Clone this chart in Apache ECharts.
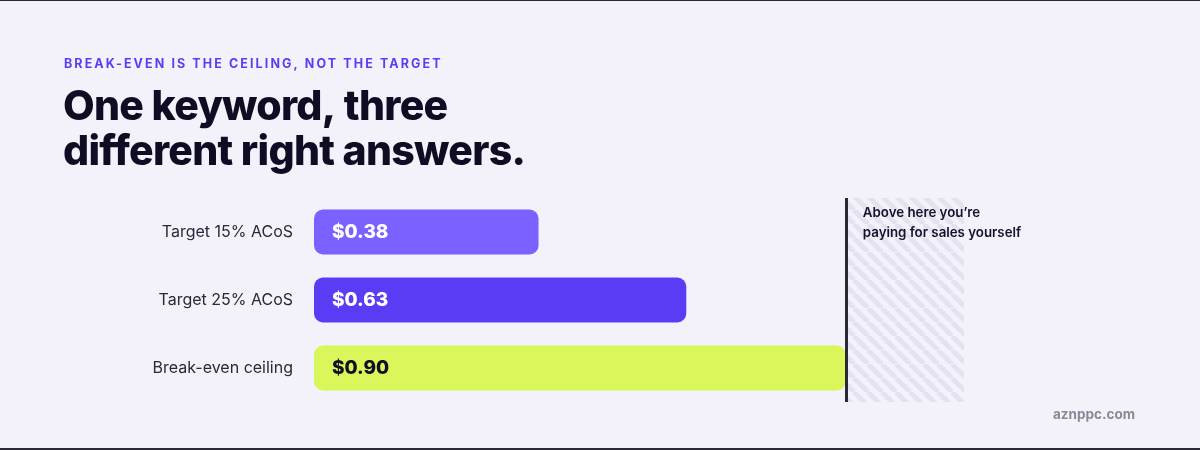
<!DOCTYPE html>
<html>
<head>
<meta charset="utf-8">
<script src="https://cdn.jsdelivr.net/npm/echarts@6/dist/echarts.min.js"></script>
<style>
  html, body { margin: 0; padding: 0; background: #f3f2fa; }
  #chart { width: 1200px; height: 450px; }
</style>
</head>
<body>
<div id="chart"></div>
<script>
const categories = ['Target 15% ACoS', 'Target 25% ACoS', 'Break-even ceiling'];
const cpcValues = [0.38, 0.63, 0.90];
const barColors = ['#7b61ff', '#5b3cf5', '#d9f65a'];
const labelColors = ['#ffffff', '#ffffff', '#120f24'];
const breakEven = 0.90;
const zoneEnd = 1.10;
const kicker = 'BREAK-EVEN IS THE CEILING, NOT THE TARGET';
const headlineLines = ['One keyword, three', 'different right answers.'];
const annotation = 'Above here you\u2019re\npaying for sales yourself';
const footer = 'aznppc.com';

// typographic tracking for the kicker (wide) and headline (tight)
const tracking = { [kicker]: '2.1px' };
headlineLines.forEach(l => { tracking[l] = '-0.7px'; });
const origFillText = CanvasRenderingContext2D.prototype.fillText;
CanvasRenderingContext2D.prototype.fillText = function (txt, x, y, maxW) {
  const ls = tracking[txt];
  if (ls && 'letterSpacing' in this) {
    this.save();
    this.letterSpacing = ls;
    if (maxW === undefined) origFillText.call(this, txt, x, y);
    else origFillText.call(this, txt, x, y, maxW);
    this.restore();
    return;
  }
  if (maxW === undefined) origFillText.call(this, txt, x, y);
  else origFillText.call(this, txt, x, y, maxW);
};

// stripe pattern for the "above break-even" zone
const pat = document.createElement('canvas');
pat.width = 14; pat.height = 14;
const pctx = pat.getContext('2d');
pctx.strokeStyle = '#e4e2ee';
pctx.lineWidth = 5;
for (const k of [-14, 0, 14]) {
  pctx.beginPath();
  pctx.moveTo(k, 0);
  pctx.lineTo(k + 14, 14);
  pctx.stroke();
}

const chart = echarts.init(document.getElementById('chart'), null, { renderer: 'canvas' });
chart.setOption({
  backgroundColor: '#f3f2fa',
  animation: false,
  title: [
    { text: kicker, left: 59, top: 53,
      textStyle: { fontFamily: 'Inter', fontSize: 12.5, fontWeight: 700, color: '#5b3cf5' } },
    { text: headlineLines.join('\n'), left: 58, top: 80,
      textStyle: { fontFamily: 'Inter', fontSize: 41, fontWeight: 800, lineHeight: 45, color: '#0f0c24' } },
    { text: footer, right: 60, top: 403,
      textStyle: { fontFamily: 'Inter', fontSize: 13.5, fontWeight: 700, color: '#8a8898' } }
  ],
  grid: { left: 314, top: 198, width: 650, height: 204, containLabel: false },
  xAxis: { type: 'value', min: 0, max: zoneEnd, show: false },
  yAxis: {
    type: 'category', data: categories, inverse: true,
    axisLine: { show: false }, axisTick: { show: false }, splitLine: { show: false },
    axisLabel: { fontFamily: 'Inter', fontSize: 16, color: '#2b2838', margin: 21 }
  },
  series: [{
    type: 'bar',
    barWidth: 45,
    data: cpcValues.map((v, i) => ({
      value: v,
      itemStyle: { color: barColors[i], borderRadius: 9 },
      label: { color: labelColors[i] }
    })),
    label: {
      show: true, position: 'insideLeft', distance: 18,
      fontFamily: 'Inter', fontSize: 19, fontWeight: 800,
      formatter: p => '$' + p.value.toFixed(2)
    },
    markArea: {
      silent: true,
      itemStyle: { color: { image: pat, repeat: 'repeat' } },
      label: {
        show: true, position: 'insideTopLeft', offset: [12, 0],
        formatter: annotation,
        fontFamily: 'Inter', fontSize: 13.3, fontWeight: 600, lineHeight: 20, color: '#15122a'
      },
      data: [[{ xAxis: breakEven }, { xAxis: zoneEnd }]]
    },
    markLine: {
      silent: true, symbol: 'none',
      label: { show: false },
      lineStyle: { color: '#2b2838', width: 3, type: 'solid' },
      data: [{ xAxis: breakEven }]
    },
    z: 3
  }],
  graphic: [
    { type: 'rect', left: 0, top: 0, shape: { width: 1200, height: 1 }, style: { fill: '#2b2838' } },
    { type: 'rect', left: 0, bottom: 0, shape: { width: 1200, height: 2 }, style: { fill: '#2b2838' } }
  ]
});
</script>
</body>
</html>
